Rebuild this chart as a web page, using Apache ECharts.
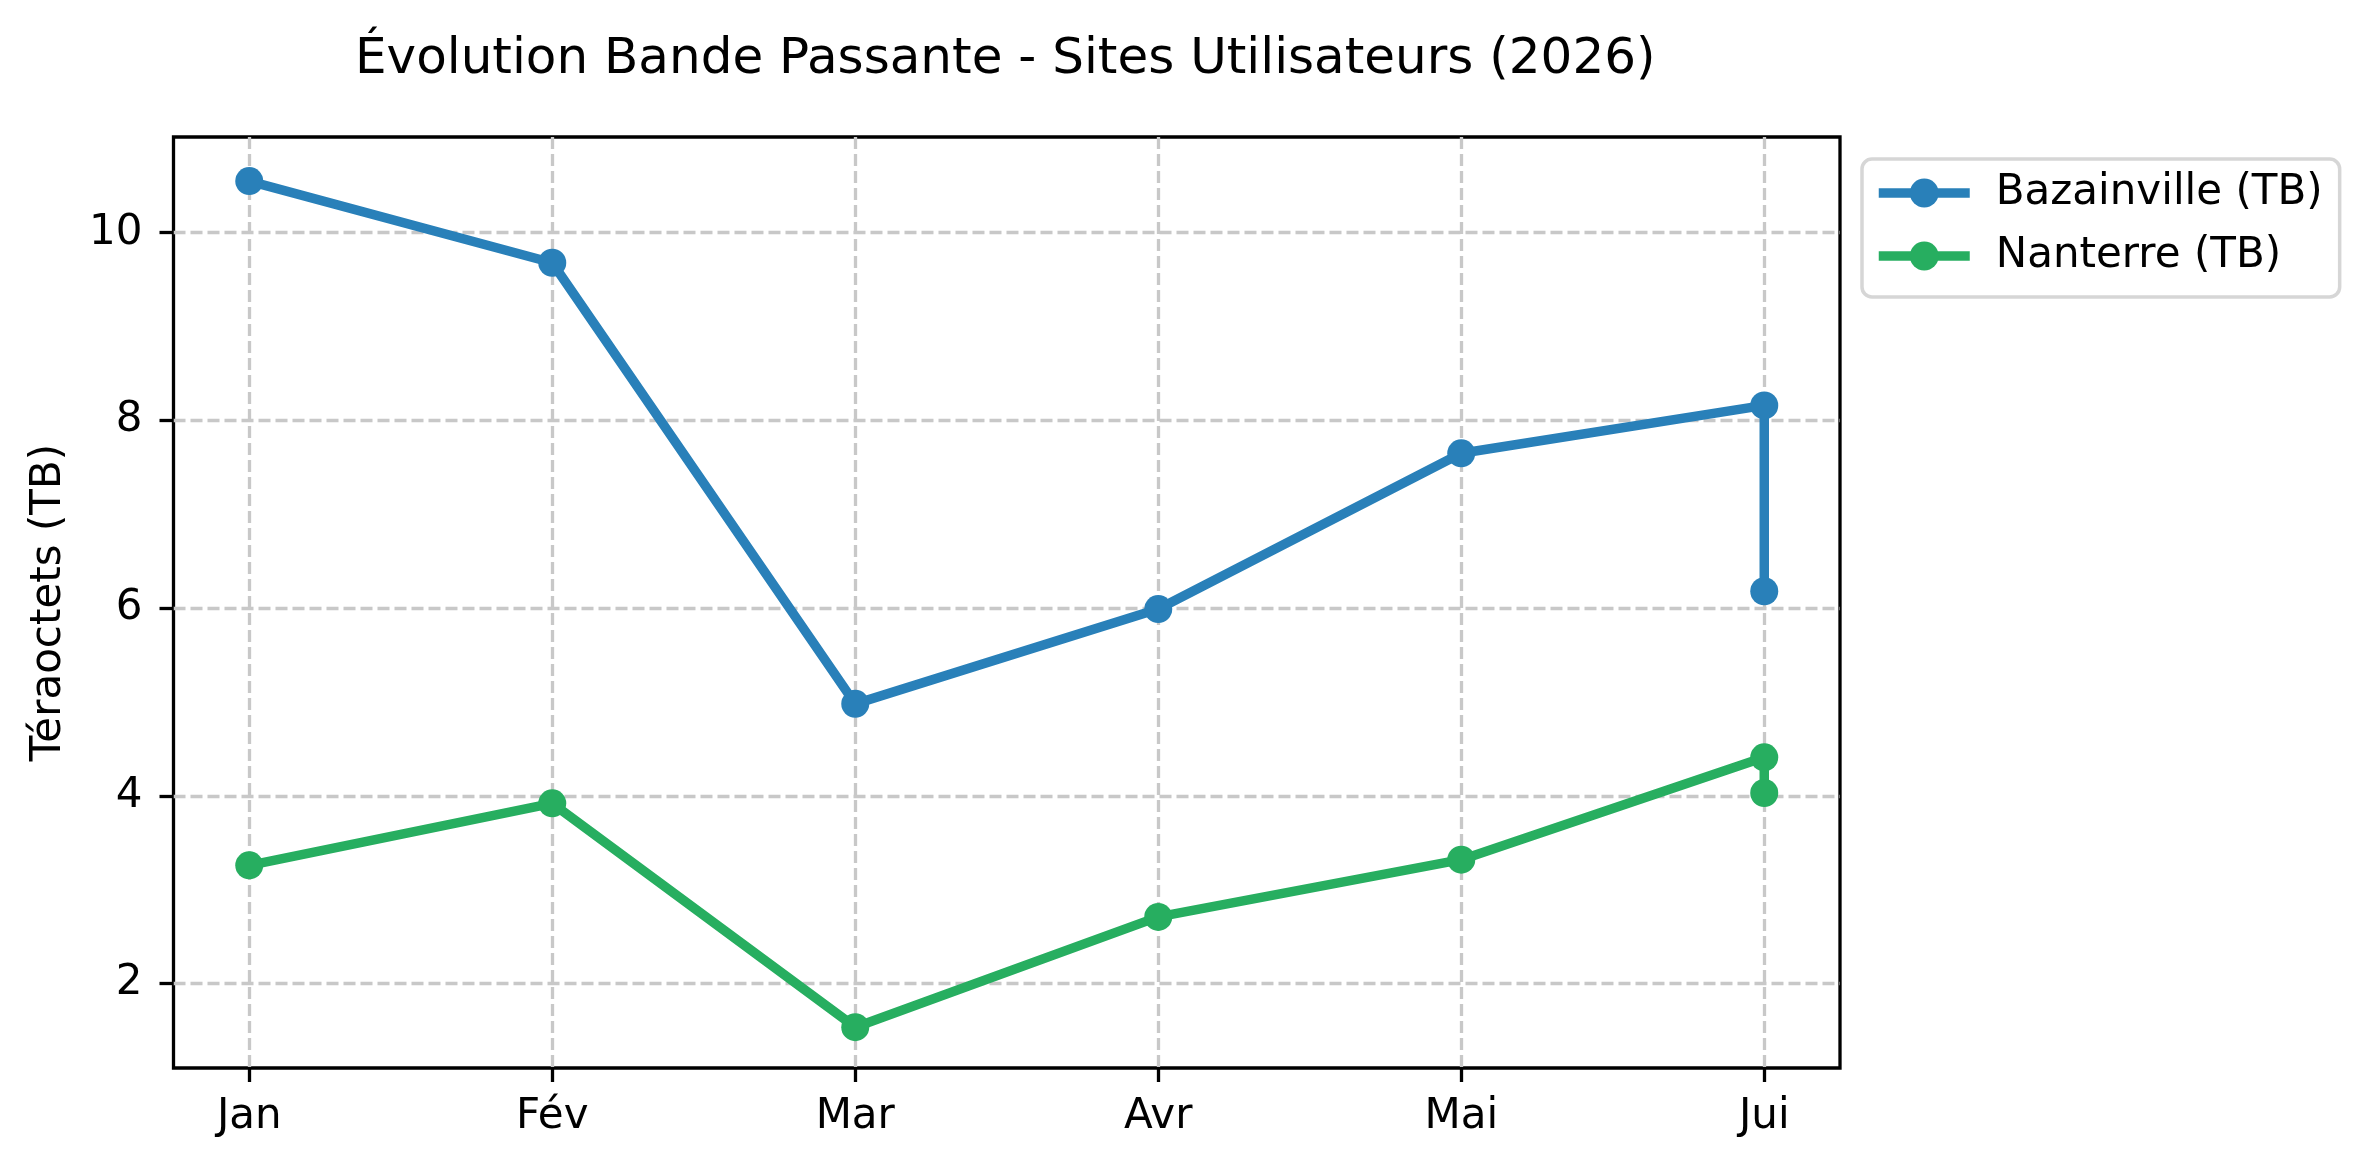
<!DOCTYPE html>
<html>
<head>
    <title>Évolution Bande Passante</title>
    <meta charset="utf-8">
    <script src="https://cdn.jsdelivr.net/npm/echarts@6/dist/echarts.min.js"></script>
    <style>
        html, body {
            margin: 0;
            padding: 0;
            background: #fff;
        }

        #chartcanvas {
            width: 2370px;
            height: 1172px;
        }
    </style>
</head>
<body>
<div id="chartcanvas"></div>
<script>
    // tick labels of the x axis (one per month)
    var months = ['Jan', 'Fév', 'Mar', 'Avr', 'Mai', 'Jui'];
    // category of each point (the last month appears twice)
    var categories = ['Jan', 'Fév', 'Mar', 'Avr', 'Mai', 'Jui', 'Jui'];
    var bazainville = [10.55, 9.68, 4.98, 5.99, 7.65, 8.16, 6.18];
    var nanterre = [3.26, 3.92, 1.535, 2.71, 3.32, 4.41, 4.03];
    var yTicks = [2, 4, 6, 8, 10];

    var font = 'DejaVu Sans';

    function toPoints(values) {
        var pts = []
        for (var i = 0; i < values.length; i++) {
            pts.push([months.indexOf(categories[i]), values[i]])
        }
        return pts
    }

    var xTicks = months.map(function (m, i) {
        return i
    })

    var myChart = echarts.init(document.getElementById('chartcanvas'));
    myChart.setOption({
        animation: false,
        backgroundColor: '#ffffff',
        title: {
            text: 'Évolution Bande Passante - Sites Utilisateurs (2026)',
            left: 355,
            top: 35,
            padding: 0,
            textStyle: {
                fontFamily: font,
                fontSize: 50,
                fontWeight: 'normal',
                color: '#000'
            }
        },
        legend: {
            orient: 'vertical',
            left: 1862,
            top: 159,
            padding: [13, 17, 20, 12],
            itemGap: 21,
            itemWidth: 91,
            itemHeight: 36,
            backgroundColor: '#fff',
            borderColor: '#d6d6d6',
            borderWidth: 3.5,
            borderRadius: 10,
            lineStyle: {width: 9.5},
            textStyle: {
                fontFamily: font,
                fontSize: 42,
                lineHeight: 42,
                color: '#000',
                padding: [0, 0, 0, 21]
            },
            data: ['Bazainville (TB)', 'Nanterre (TB)']
        },
        grid: {
            left: 173.5,
            right: 530,
            top: 137,
            bottom: 104,
            show: true,
            borderColor: '#000',
            borderWidth: 3.3,
            backgroundColor: 'transparent'
        },
        xAxis: {
            type: 'value',
            min: -0.25,
            max: 5.25,
            axisLine: {show: false, onZero: false},
            axisTick: {
                show: true,
                inside: false,
                length: 14,
                customValues: xTicks,
                lineStyle: {color: '#000', width: 3.3}
            },
            axisLabel: {
                customValues: xTicks,
                margin: 28,
                fontFamily: font,
                fontSize: 42,
                lineHeight: 42,
                color: '#000',
                formatter: function (v) {
                    return months[Math.round(v)]
                }
            },
            splitLine: {
                show: true,
                lineStyle: {color: '#c8c8c8', width: 3.3, type: [12, 5]}
            }
        },
        yAxis: {
            type: 'value',
            min: 1.10,
            max: 11.02,
            name: 'Téraoctets (TB)',
            nameLocation: 'middle',
            nameGap: 103,
            nameTextStyle: {
                fontFamily: font,
                fontSize: 42,
                lineHeight: 42,
                color: '#000'
            },
            axisLine: {show: false, onZero: false},
            axisTick: {
                show: true,
                inside: false,
                length: 14,
                customValues: yTicks,
                lineStyle: {color: '#000', width: 3.3}
            },
            axisLabel: {
                customValues: yTicks,
                margin: 31,
                fontFamily: font,
                fontSize: 42,
                color: '#000'
            },
            splitLine: {
                show: true,
                lineStyle: {color: '#c8c8c8', width: 3.3, type: [12, 5]}
            }
        },
        series: [
            {
                name: 'Bazainville (TB)',
                type: 'line',
                data: toPoints(bazainville),
                symbol: 'circle',
                symbolSize: 28,
                color: '#2980b9',
                lineStyle: {width: 9.5, color: '#2980b9'},
                itemStyle: {color: '#2980b9'}
            },
            {
                name: 'Nanterre (TB)',
                type: 'line',
                data: toPoints(nanterre),
                symbol: 'circle',
                symbolSize: 28,
                color: '#27ae60',
                lineStyle: {width: 9.5, color: '#27ae60'},
                itemStyle: {color: '#27ae60'}
            }
        ]
    })
</script>
</body>
</html>
